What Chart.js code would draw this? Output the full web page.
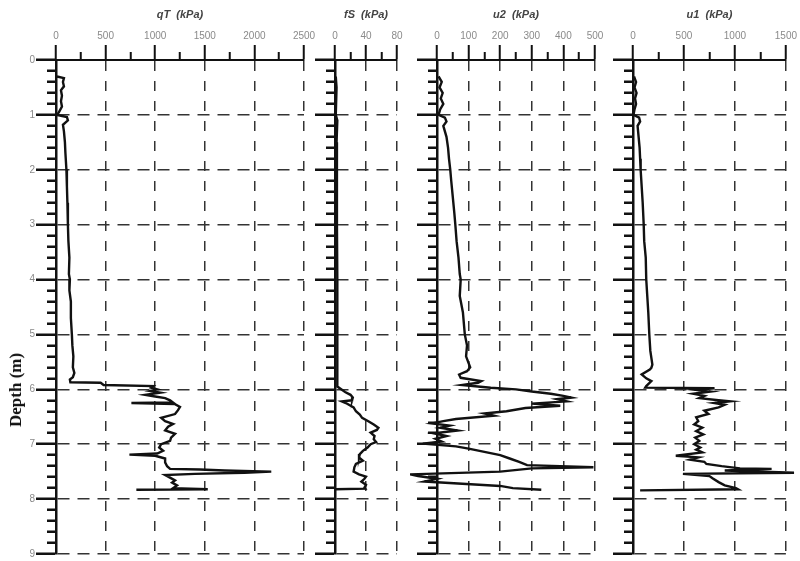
<!DOCTYPE html>
<html>
<head>
<meta charset="utf-8">
<script src="https://cdn.jsdelivr.net/npm/chart.js@4.4.0/dist/chart.umd.min.js"></script>
<style>
  body { margin: 0; background: #fff; }
  #wrap { position: relative; width: 800px; height: 561px; overflow: hidden; }
  #wrap canvas { position: absolute; top: 0; }
  #depthLabel {
    position: absolute; left: 16px; top: 390px;
    transform: translate(-50%, -50%) rotate(-90deg);
    font: bold 17px "Liberation Serif", "Times New Roman", serif;
    color: #111; white-space: nowrap;
  }
</style>
</head>
<body>
<div id="wrap">
  <canvas id="qtChart" width="320" height="561" style="left:0px"></canvas>
  <canvas id="fsChart" width="100" height="561" style="left:308px"></canvas>
  <canvas id="u2Chart" width="200" height="561" style="left:410px"></canvas>
  <canvas id="u1Chart" width="195" height="561" style="left:605px"></canvas>
  <div id="depthLabel">Depth (m)</div>
</div>
<script>
// Achsentitel
const panelTitles = ['qT  (kPa)', 'fS  (kPa)', 'u2  (kPa)', 'u1  (kPa)'];

// qT - Spitzenwiderstand
const qtDepth = [0.30, 0.33, 0.40, 0.48, 0.55, 0.65, 0.75, 0.85, 0.95, 1.00, 1.04, 1.10, 1.18, 1.30, 1.50, 1.70, 2.00, 2.30, 2.60, 3.00,
  3.30, 3.60, 3.90, 4.00, 4.20, 4.40, 4.70, 5.00, 5.20, 5.40, 5.60, 5.70, 5.78, 5.82, 5.87, 5.88, 5.92, 5.94, 5.97, 6.00,
  6.03, 6.06, 6.10, 6.13, 6.16, 6.20, 6.24, 6.25, 6.27, 6.32, 6.38, 6.45, 6.52, 6.58, 6.63, 6.68, 6.75, 6.81, 6.88, 6.94,
  7.00, 7.06, 7.12, 7.17, 7.19, 7.21, 7.26, 7.33, 7.40, 7.45, 7.46, 7.48, 7.50, 7.52, 7.54, 7.56, 7.60, 7.66, 7.70, 7.75,
  7.80, 7.82, 7.83];
const qtValues = [10, 80, 70, 80, 50, 60, 50, 60, 30, 10, 110, 120, 70, 80, 90, 95, 105, 110, 115, 120,
  125, 135, 130, 140, 135, 150, 150, 160, 165, 175, 170, 185, 170, 140, 145, 450, 480, 980, 960, 1020,
  950, 1050, 900, 1000, 1100, 1150, 1180, 760, 1200, 1250, 1230, 1200, 1060, 1100, 1180, 1130, 1100, 1200, 1160, 1150,
  1060, 1040, 1080, 1020, 740, 1000, 1100, 1100, 1120, 1150, 1450, 1700, 2170, 1900, 1400, 1100, 1140, 1200, 1170, 1220,
  1180, 1530, 810];

// fS - Mantelreibung
const fsDepth = [0.30, 0.50, 1.00, 1.10, 1.50, 2.00, 3.00, 4.00, 5.00, 5.80, 5.95, 6.00, 6.05, 6.10, 6.15, 6.20, 6.22, 6.25, 6.33, 6.40,
  6.46, 6.52, 6.58, 6.64, 6.70, 6.74, 6.79, 6.85, 6.91, 6.96, 7.00, 7.06, 7.12, 7.18, 7.24, 7.30, 7.36, 7.42, 7.50, 7.55,
  7.59, 7.63, 7.68, 7.74, 7.79, 7.81, 7.82];
const fsValues = [1, 2, 1, 3, 2, 2.5, 2.5, 3, 3, 3, 3, 8, 13, 20, 23, 22, 9, 14, 24, 27,
  32, 35, 43, 50, 56, 54, 46, 51, 50, 53, 46, 42, 36, 32, 31, 36, 27, 25, 24, 31,
  40, 38, 34, 40, 38, 39, 0];

// u2 - Porenwasserdruck hinter der Spitze
const u2Depth = [0.30, 0.40, 0.50, 0.60, 0.70, 0.80, 0.90, 1.00, 1.05, 1.12, 1.20, 1.40, 1.60, 1.80, 2.00, 2.20, 2.50, 2.80, 3.00, 3.30,
  3.60, 3.90, 4.00, 4.30, 4.60, 5.00, 5.20, 5.40, 5.60, 5.67, 5.73, 5.79, 5.85, 5.88, 5.92, 5.97, 6.00, 6.04, 6.08, 6.12,
  6.15, 6.18, 6.22, 6.26, 6.30, 6.34, 6.40, 6.44, 6.48, 6.54, 6.58, 6.62, 6.66, 6.70, 6.75, 6.80, 6.85, 6.90, 6.95, 6.99,
  7.04, 7.08, 7.14, 7.20, 7.26, 7.32, 7.38, 7.42, 7.44, 7.50, 7.55, 7.58, 7.63, 7.68, 7.72, 7.76, 7.80, 7.83];
const u2Values = [5, 15, 8, 18, 12, 20, 10, 5, 25, 30, 20, 30, 35, 38, 42, 45, 50, 55, 58, 62,
  68, 72, 75, 72, 82, 88, 95, 92, 105, 95, 70, 75, 140, 130, 80, 170, 250, 300, 360, 400,
  425, 380, 410, 300, 390, 280, 220, 150, 180, 60, 20, -15, 40, 10, 65, -10, 30, -5, 15, -45,
  60, 100, 150, 200, 230, 260, 285, 495, 300, 200, -85, -60, 0, -40, 80, 200, 240, 330];

// u1 - Porenwasserdruck an der Spitze
const u1Depth = [0.30, 0.40, 0.50, 0.60, 0.70, 0.80, 0.90, 1.00, 1.05, 1.12, 1.20, 1.40, 1.60, 1.80, 2.00, 2.30, 2.60, 3.00, 3.30, 3.60,
  4.00, 4.30, 4.60, 5.00, 5.30, 5.55, 5.61, 5.64, 5.73, 5.80, 5.85, 5.94, 5.97, 5.98, 6.01, 6.04, 6.08, 6.12, 6.16, 6.20,
  6.22, 6.25, 6.28, 6.33, 6.39, 6.45, 6.51, 6.58, 6.64, 6.70, 6.76, 6.82, 6.88, 6.94, 7.00, 7.06, 7.10, 7.15, 7.21, 7.24,
  7.28, 7.32, 7.36, 7.40, 7.44, 7.45, 7.48, 7.52, 7.54, 7.58, 7.62, 7.69, 7.75, 7.80, 7.82, 7.84];
const u1Values = [10, 30, 15, 35, 20, 30, 15, 5, 60, 70, 45, 55, 65, 70, 75, 85, 95, 105, 110, 125,
  130, 140, 150, 160, 170, 190, 180, 165, 85, 130, 180, 130, 120, 800, 620, 760, 590, 700, 650, 840,
  950, 800, 900, 840, 700, 740, 620, 640, 600, 680, 620, 690, 610, 650, 600, 660, 620, 680, 420, 640,
  560, 700, 720, 870, 1050, 1360, 900, 1580, 490, 750, 780, 840, 900, 1010, 1030, 70];

const nearMultiple = (v, step) => Math.abs(v / step - Math.round(v / step)) < 1e-6;

// Ein Diagramm pro Spalte, gleiche Tiefenachse
function createPanel(id, title, depths, values, xMax, xStep, labelStep, yWidth, rightPad, showDepthTicks) {
  const ctx = document.getElementById(id).getContext('2d');
  return new Chart(ctx, {
    type: 'line',
    data: {
      datasets: [{
        data: depths.map((d, i) => ({ x: values[i], y: d })),
        borderColor: '#111',
        borderWidth: 2.4,
        pointRadius: 0,
        tension: 0,
        fill: false,
        clip: false
      }]
    },
    options: {
      indexAxis: 'y',
      responsive: false,
      animation: false,
      layout: { padding: { left: 0, right: rightPad, top: 0, bottom: 4 } },
      plugins: { legend: { display: false }, tooltip: { enabled: false } },
      scales: {
        x: {
          type: 'linear',
          position: 'top',
          min: 0,
          max: xMax,
          title: {
            display: true,
            text: title,
            color: '#444',
            font: { family: 'Liberation Sans', size: 11, weight: 'bold', style: 'italic' },
            padding: { top: 8, bottom: 0 }
          },
          ticks: {
            stepSize: xStep,
            autoSkip: false,
            maxRotation: 0,
            padding: 3,
            color: '#8a8a8a',
            font: { family: 'Liberation Sans', size: 10 },
            callback: v => nearMultiple(v, labelStep) ? v : ''
          },
          grid: {
            color: c => (c.tick && nearMultiple(c.tick.value, labelStep)) ? '#333' : 'transparent',
            lineWidth: 1.5,
            tickLength: 15,
            tickColor: '#111',
            tickWidth: 2,
            tickBorderDash: c => (c.tick && nearMultiple(c.tick.value, labelStep)) ? [] : [0, 7, 8, 0]
          },
          border: { color: '#111', width: 2, dash: [10, 10] },
          afterFit: s => { s.height = 60; }
        },
        y: {
          type: 'linear',
          position: 'left',
          reverse: true,
          min: 0,
          max: 9,
          ticks: {
            stepSize: 0.2,
            autoSkip: false,
            padding: 1,
            color: showDepthTicks ? '#8a8a8a' : 'transparent',
            font: { family: 'Liberation Sans', size: 10 },
            callback: v => nearMultiple(v, 1) ? Math.round(v) : ''
          },
          grid: {
            color: c => (c.tick && nearMultiple(c.tick.value, 1)) ? '#333' : 'transparent',
            lineWidth: 1.5,
            tickLength: 20,
            tickColor: '#111',
            tickWidth: 2.5,
            tickBorderDash: c => (c.tick && nearMultiple(c.tick.value, 1)) ? [] : [0, 11, 8, 0]
          },
          border: { color: '#111', width: 2.5, dash: [12, 8] },
          afterFit: s => { s.width = yWidth; }
        }
      }
    }
  });
}

createPanel('qtChart', panelTitles[0], qtDepth, qtValues, 2500, 250, 500, 56, 16, true);
createPanel('fsChart', panelTitles[1], fsDepth, fsValues, 80, 20, 40, 27, 11, false);
createPanel('u2Chart', panelTitles[2], u2Depth, u2Values, 500, 50, 100, 27, 15, false);
createPanel('u1Chart', panelTitles[3], u1Depth, u1Values, 1500, 250, 500, 28, 12, false);
</script>
</body>
</html>
